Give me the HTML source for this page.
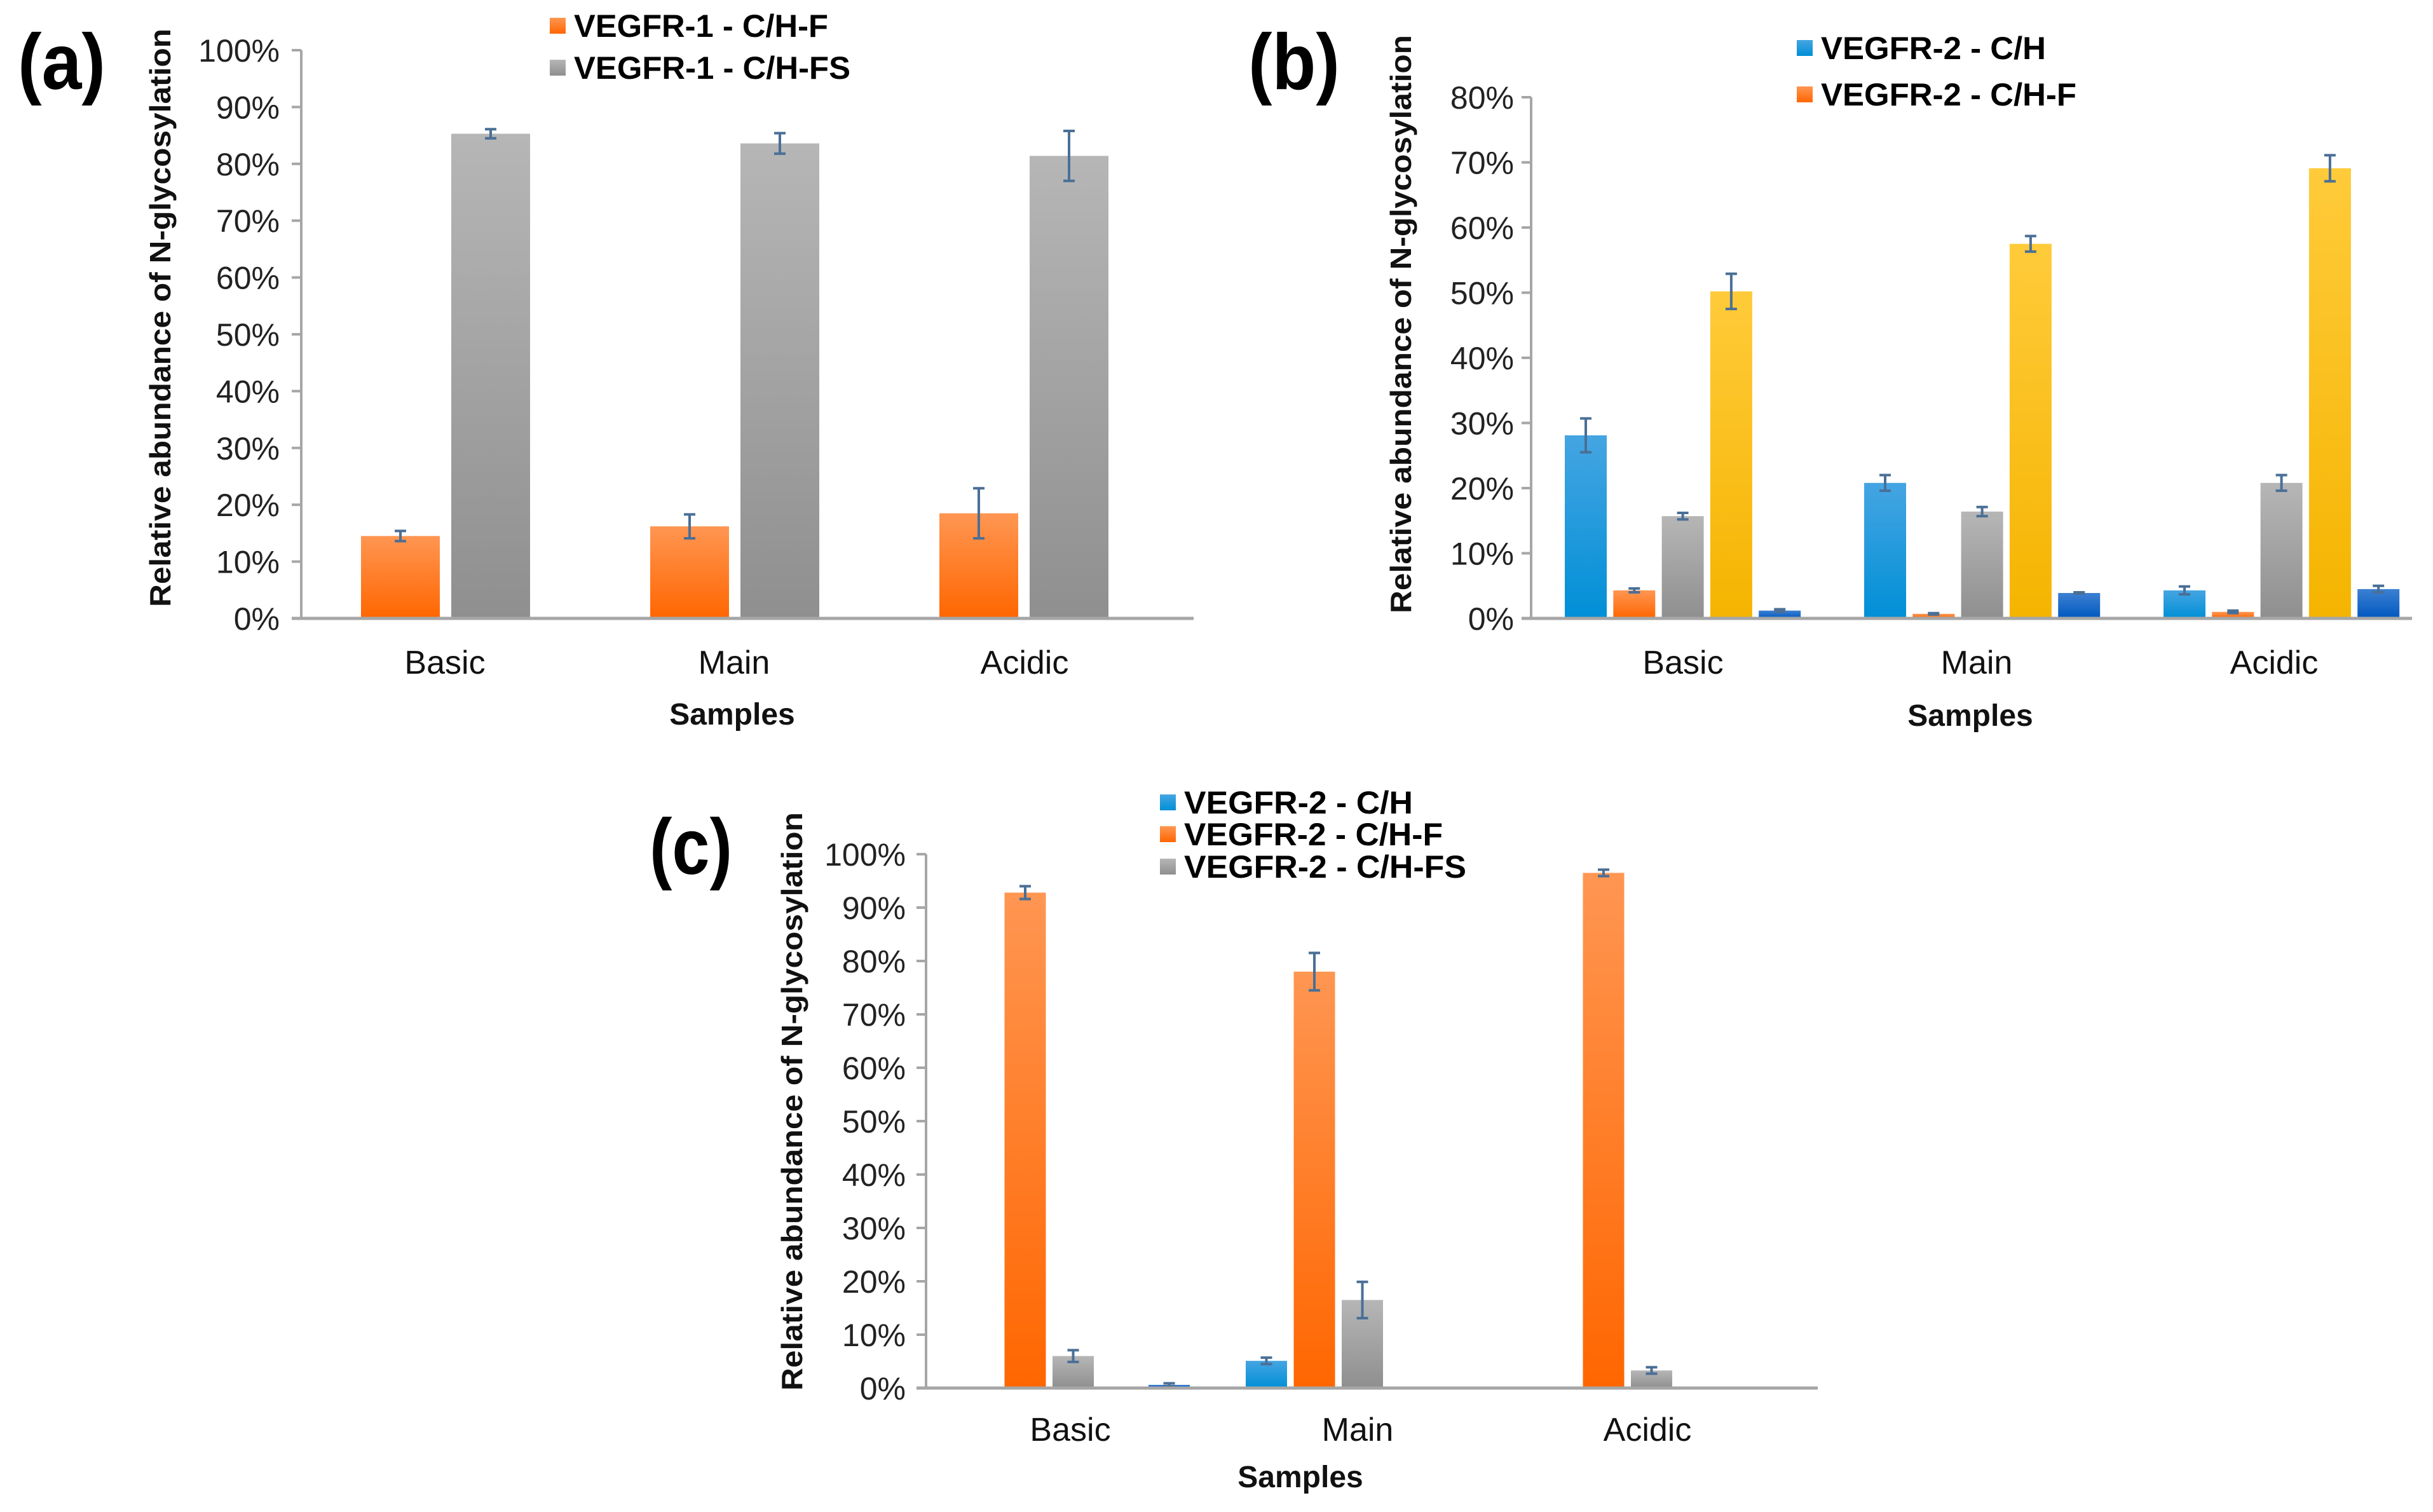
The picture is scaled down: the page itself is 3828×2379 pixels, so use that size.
<!DOCTYPE html>
<html><head><meta charset="utf-8"><style>
html,body{margin:0;padding:0;background:#fff}
svg{display:block}
text{font-family:"Liberation Sans",Arial,sans-serif}
</style></head><body>
<svg id="fig" width="3828" height="2379" viewBox="0 0 3828 2379" xmlns="http://www.w3.org/2000/svg">
<defs>
<linearGradient id="g-orange" x1="0" y1="0" x2="0" y2="1"><stop offset="0" stop-color="#ff9652"/><stop offset="1" stop-color="#ff6600"/></linearGradient>
<linearGradient id="g-gray" x1="0" y1="0" x2="0" y2="1"><stop offset="0" stop-color="#b6b6b6"/><stop offset="1" stop-color="#8f8f8f"/></linearGradient>
<linearGradient id="g-blue" x1="0" y1="0" x2="0" y2="1"><stop offset="0" stop-color="#45a5e2"/><stop offset="1" stop-color="#008fd6"/></linearGradient>
<linearGradient id="g-yellow" x1="0" y1="0" x2="0" y2="1"><stop offset="0" stop-color="#ffcb3a"/><stop offset="1" stop-color="#f5b400"/></linearGradient>
<linearGradient id="g-dblue" x1="0" y1="0" x2="0" y2="1"><stop offset="0" stop-color="#3c80d2"/><stop offset="1" stop-color="#0058bf"/></linearGradient>
</defs>
</svg>
<script>
// ---------- data ----------
const categories = ["Basic", "Main", "Acidic"];
// panel (a)
const aTicks = ["0%","10%","20%","30%","40%","50%","60%","70%","80%","90%","100%"];
const aCHF = [14.5, 16.2, 18.5];
const aCHFErr = [0.9, 2.1, 4.4];
const aCHFS = [85.3, 83.6, 81.4];
const aCHFSErr = [0.8, 1.8, 4.4];
// panel (b)
const bTicks = ["0%","10%","20%","30%","40%","50%","60%","70%","80%"];
const bCH = [28.1, 20.8, 4.3];
const bCHErr = [2.6, 1.2, 0.6];
const bCHF = [4.3, 0.7, 1.0];
const bCHFErr = [0.3, 0.1, 0.2];
const bGray = [15.7, 16.4, 20.8];
const bGrayErr = [0.5, 0.7, 1.2];
const bYellow = [50.2, 57.5, 69.1];
const bYellowErr = [2.7, 1.2, 2.0];
const bDBlue = [1.2, 3.9, 4.5];
const bDBlueErr = [0.2, 0.1, 0.5];
// panel (c)
const cTicks = ["0%","10%","20%","30%","40%","50%","60%","70%","80%","90%","100%"];
const cCH = [0, 5.1, 0];
const cCHErr = [0, 0.6, 0];
const cCHF = [92.8, 78.0, 96.5];
const cCHFErr = [1.2, 3.5, 0.6];
const cCHFS = [6.0, 16.5, 3.3];
const cCHFSErr = [1.1, 3.4, 0.6];
const cDBlue = [0.6, 0, 0];
const cDBlueErr = [0.3, 0, 0];

const NS = "http://www.w3.org/2000/svg";
const svg = document.getElementById("fig");
function mk(tag, attrs, parent) {
  const e = document.createElementNS(NS, tag);
  for (const k in attrs) e.setAttribute(k, attrs[k]);
  (parent || svg).appendChild(e);
  return e;
}
function txt(str, attrs, parent) { const t = mk("text", attrs, parent); t.textContent = str; return t; }

function panel(p) {
  const g = mk("g", {});
  
  
  const yScale = v => p.y0 - (v / p.max) * (p.y0 - p.yTop);
  const L = txt(p.letter, {x: p.letterX, y: p.letterY, "font-size": 124, "font-weight": "bold", fill: "#000", textLength: p.letterW, lengthAdjust: "spacingAndGlyphs"}, g);
  
  
  const ya = mk("line", {x1: p.x0, y1: p.yTop, x2: p.x0, y2: p.y0, stroke: "#a6a6a6", "stroke-width": 4}, g);
  
  
  p.ticks.forEach((lab, i) => {
    const v = i * 10, y = yScale(v);
    const tk = mk("line", {x1: p.x0 - 15, y1: y, x2: p.x0, y2: y, stroke: "#a6a6a6", "stroke-width": 4}, g);
    
    
    const tl = txt(lab, {x: p.labelRight, y: y + 18, "text-anchor": "end", "font-size": 50, fill: "#222"}, g);
    
    
  });
  p.series.forEach((s, si) => {
    s.vals.forEach((v, ci) => {
      if (v <= 0) return;
      const x = p.groupStart + ci * p.groupStep + s.slot * p.pitch;
      const yt = yScale(v);
      const r = mk("rect", {x: x, y: yt, width: p.barW, height: p.y0 - yt, fill: s.fill}, g);
      
      
      const e = s.errs[ci];
      if (e > 0) {
        const cx = x + p.barW / 2, ya1 = yScale(v + e), ya2 = yScale(v - e);
        const eb = mk("path", {d: `M${cx} ${ya1}V${ya2}M${cx-9} ${ya1}H${cx+9}M${cx-9} ${ya2}H${cx+9}`, stroke: "#4a6f96", "stroke-width": 4, fill: "none"}, g);
        
        
      }
    });
  });
  const xa = mk("line", {x1: p.x0 - 15, y1: p.y0, x2: p.xEnd, y2: p.y0, stroke: "#a6a6a6", "stroke-width": 5}, g);
  
  
  categories.forEach((c, i) => {
    const t = txt(c, {x: p.catX[i], y: p.catY, "text-anchor": "middle", "font-size": 52, fill: "#111"}, g);
    
    
  });
  const xt = txt("Samples", {x: p.samplesX, y: p.samplesY, "text-anchor": "middle", "font-size": 48, "font-weight": "bold", fill: "#111"}, g);
  
  
  const yt = txt("Relative abundance of N-glycosylation", {x: 0, y: 0, "text-anchor": "middle", "font-size": 46, "font-weight": "bold", fill: "#111", textLength: 910, lengthAdjust: "spacingAndGlyphs", transform: `translate(${p.titleX},${p.titleY}) rotate(-90)`}, g);
  
  
  p.legend.forEach(l => {
    const le = mk("g", {}, g);
    
    
    mk("rect", {x: p.legX, y: l.y - 30, width: 25, height: 25, fill: l.fill}, le);
    txt(l.label, {x: p.legX + 38, y: l.y, "font-size": 50, "font-weight": "bold", fill: "#000", textLength: l.len, lengthAdjust: "spacingAndGlyphs"}, le);
  });
}

panel({
  name: "panel-a", letter: "(a)", letterX: 28, letterY: 140, letterW: 138,
  x0: 474, xEnd: 1878, y0: 973, yTop: 79, max: 100, ticks: aTicks, labelRight: 440,
  groupStart: 568, groupStep: 455, pitch: 142, barW: 124,
  series: [
    {key: "vegfr1-chf", slot: 0, vals: aCHF, errs: aCHFErr, fill: "url(#g-orange)"},
    {key: "vegfr1-chfs", slot: 1, vals: aCHFS, errs: aCHFSErr, fill: "url(#g-gray)"}
  ],
  catX: [700, 1155, 1612], catY: 1060, samplesX: 1152, samplesY: 1140,
  titleX: 268, titleY: 500,
  legX: 865, legend: [
    {label: "VEGFR-1 - C/H-F", y: 58, fill: "url(#g-orange)", len: 400},
    {label: "VEGFR-1 - C/H-FS", y: 124, fill: "url(#g-gray)", len: 435}
  ]
});

panel({
  name: "panel-b", letter: "(b)", letterX: 1964, letterY: 140, letterW: 144,
  x0: 2409, xEnd: 3795, y0: 973, yTop: 153, max: 80, ticks: bTicks, labelRight: 2382,
  groupStart: 2462, groupStep: 471, pitch: 76.3, barW: 66,
  series: [
    {key: "vegfr2-ch", slot: 0, vals: bCH, errs: bCHErr, fill: "url(#g-blue)"},
    {key: "vegfr2-chf", slot: 1, vals: bCHF, errs: bCHFErr, fill: "url(#g-orange)"},
    {key: "gray", slot: 2, vals: bGray, errs: bGrayErr, fill: "url(#g-gray)"},
    {key: "yellow", slot: 3, vals: bYellow, errs: bYellowErr, fill: "url(#g-yellow)"},
    {key: "dark-blue", slot: 4, vals: bDBlue, errs: bDBlueErr, fill: "url(#g-dblue)"}
  ],
  catX: [2648, 3110, 3578], catY: 1060, samplesX: 3100, samplesY: 1142,
  titleX: 2220, titleY: 510,
  legX: 2827, legend: [
    {label: "VEGFR-2 - C/H", y: 93, fill: "url(#g-blue)", len: 354},
    {label: "VEGFR-2 - C/H-F", y: 166, fill: "url(#g-orange)", len: 402}
  ]
});

panel({
  name: "panel-c", letter: "(c)", letterX: 1022, letterY: 1375, letterW: 130,
  x0: 1457, xEnd: 2860, y0: 2184, yTop: 1344, max: 100, ticks: cTicks, labelRight: 1425,
  groupStart: 1505, groupStep: 455, pitch: 75.5, barW: 65,
  series: [
    {key: "vegfr2-ch", slot: 0, vals: cCH, errs: cCHErr, fill: "url(#g-blue)"},
    {key: "vegfr2-chf", slot: 1, vals: cCHF, errs: cCHFErr, fill: "url(#g-orange)"},
    {key: "vegfr2-chfs", slot: 2, vals: cCHFS, errs: cCHFSErr, fill: "url(#g-gray)"},
    {key: "dark-blue", slot: 4, vals: cDBlue, errs: cDBlueErr, fill: "url(#g-dblue)"}
  ],
  catX: [1684, 2136, 2592], catY: 2267, samplesX: 2046, samplesY: 2340,
  titleX: 1262, titleY: 1733,
  legX: 1825, legend: [
    {label: "VEGFR-2 - C/H", y: 1280, fill: "url(#g-blue)", len: 360},
    {label: "VEGFR-2 - C/H-F", y: 1330, fill: "url(#g-orange)", len: 407},
    {label: "VEGFR-2 - C/H-FS", y: 1381, fill: "url(#g-gray)", len: 444}
  ]
});
</script>
</body></html>
